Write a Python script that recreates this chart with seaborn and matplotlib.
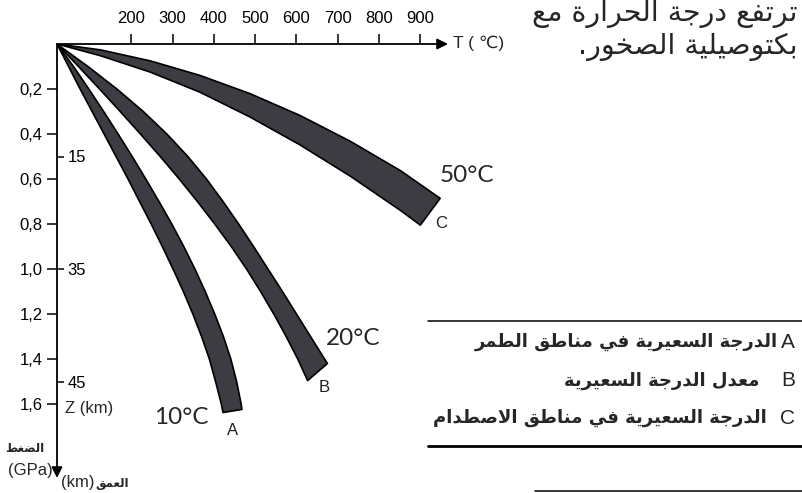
import matplotlib
matplotlib.use("Agg")
import matplotlib.pyplot as plt
from matplotlib.lines import Line2D
import seaborn as sns

# axes: temperature (top) and pressure / depth (left)
t_surface = 20
t_ticks = [200, 300, 400, 500, 600, 700, 800, 900]
p_ticks = [0.2, 0.4, 0.6, 0.8, 1.0, 1.2, 1.4, 1.6]
p_labels = ["0,2", "0,4", "0,6", "0,8", "1,0", "1,2", "1,4", "1,6"]
z_ticks = [0.5, 1.0, 1.5]
z_labels = ["15", "35", "45"]

# geotherm bands, warm edge and cool edge (T in °C, P in GPa)
a_hot_p = [0, 0.1, 0.2, 0.3, 0.4, 0.5, 0.6, 0.7, 0.8, 0.9, 1.0, 1.1, 1.2, 1.3, 1.4, 1.5, 1.6, 1.624]
a_hot_t = [20, 60, 97, 133, 168, 202, 235, 267, 298, 327, 354, 379, 402, 423, 441, 455, 466, 468]
a_cold_p = [0, 0.1, 0.2, 0.3, 0.4, 0.5, 0.6, 0.7, 0.8, 0.9, 1.0, 1.1, 1.2, 1.3, 1.4, 1.5, 1.6, 1.638]
a_cold_t = [20, 48, 76, 105, 134, 163, 192, 220, 248, 275, 301, 326, 349, 370, 389, 404, 418, 422]

b_hot_p = [0, 0.1, 0.2, 0.3, 0.4, 0.5, 0.6, 0.7, 0.8, 0.9, 1.0, 1.1, 1.2, 1.3, 1.4, 1.42]
b_hot_t = [20, 95, 165, 229, 286, 337, 382, 422, 460, 496, 531, 566, 600, 634, 668, 675]
b_cold_p = [0, 0.1, 0.2, 0.3, 0.4, 0.5, 0.6, 0.7, 0.8, 0.9, 1.0, 1.1, 1.2, 1.3, 1.4, 1.496]
b_cold_t = [20, 72, 123, 173, 222, 270, 316, 360, 402, 442, 479, 513, 545, 575, 603, 627]

c_hot_t = [20, 125, 246, 367, 488, 609, 730, 852, 948]
c_hot_p = [0, 0.026, 0.075, 0.140, 0.221, 0.318, 0.432, 0.563, 0.686]
c_cold_t = [20, 125, 246, 367, 488, 609, 730, 852, 900]
c_cold_p = [0, 0.052, 0.125, 0.215, 0.325, 0.449, 0.587, 0.740, 0.805]

band_names = ["A", "B", "C"]
band_gradients = ["10°C", "20°C", "50°C"]
legend_labels = ["الدرجة السعيرية في مناطق الطمر",
                 "معدل الدرجة السعيرية",
                 "الدرجة السعيرية في مناطق الاصطدام"]
top_lines = ["ترتفع درجة الحرارة مع", "بكتوصيلية الصخور."]

# --- minimal arabic shaping (matplotlib has no bidi / joining) ---
ISO = {'ا': 0xFE8D, 'ب': 0xFE8F, 'ة': 0xFE93, 'ت': 0xFE95, 'ج': 0xFE9D, 'ح': 0xFEA1,
       'خ': 0xFEA5, 'د': 0xFEA9, 'ر': 0xFEAD, 'س': 0xFEB1, 'ص': 0xFEB9, 'ض': 0xFEBD,
       'ط': 0xFEC1, 'ع': 0xFEC9, 'غ': 0xFECD, 'ف': 0xFED1, 'ق': 0xFED5, 'ك': 0xFED9,
       'ل': 0xFEDD, 'م': 0xFEE1, 'ن': 0xFEE5, 'و': 0xFEED, 'ي': 0xFEF1}
RIGHT_ONLY = set('اةدرو')


def rtl(text):
    out, prev, i = [], None, 0
    while i < len(text):
        c = text[i]
        nxt = text[i + 1] if i + 1 < len(text) else None
        joins_prev = prev in ISO and prev not in RIGHT_ONLY
        if c == 'ل' and nxt == 'ا':
            out.append(chr(0xFEFC if joins_prev else 0xFEFB))
            prev, i = 'ا', i + 2
            continue
        if c in ISO:
            joins_next = c not in RIGHT_ONLY and nxt in ISO
            code = ISO[c]
            if joins_prev and joins_next:
                code += 3
            elif joins_prev:
                code += 1
            elif joins_next:
                code += 2
            out.append(chr(code))
        else:
            out.append(c)
        prev = c
        i += 1
    return ''.join(reversed(out))


sns.set_theme(style="white")
plt.rcParams['font.family'] = ['Liberation Sans', 'DejaVu Sans']

W, H = 803, 493
fig = plt.figure(figsize=(W / 100, H / 100), dpi=100)


def fx(x):
    return x / W


def fy(y):
    return 1 - y / H


# origin at pixel (57, 44), arrow tips at x=448 and y=478
px_per_deg = 0.4129
px_per_gpa = 225
x0, y0, x1, y1 = 57, 44, 448, 478
ax = fig.add_axes([fx(x0), fy(y1), (x1 - x0) / W, (y1 - y0) / H])
ax.set_xlim(t_surface, t_surface + (x1 - x0) / px_per_deg)
ax.set_ylim((y1 - y0) / px_per_gpa, 0)
ax.patch.set_alpha(0)
sns.despine(ax=ax, left=True, bottom=True)
ax.spines['top'].set_visible(False)
ax.spines['right'].set_visible(False)

arrow = dict(arrowstyle='-|>', lw=1.3, color='black', mutation_scale=16,
             shrinkA=0, shrinkB=0)
ax.annotate('', xy=(1, 1), xytext=(0, 1), xycoords='axes fraction', arrowprops=arrow)
ax.annotate('', xy=(0, 0), xytext=(0, 1), xycoords='axes fraction', arrowprops=arrow)

ax.set_xticks(t_ticks, [str(t) for t in t_ticks])
ax.set_yticks(p_ticks, p_labels)
ax.tick_params(axis='x', top=True, bottom=False, labeltop=True, labelbottom=False,
               direction='out', length=7, width=1.1, pad=6, labelsize=12, colors='black')
ax.tick_params(axis='y', left=True, right=False, direction='out', length=7,
               width=1.1, pad=3.5, labelsize=12, colors='black')
ax.grid(False)

# depth scale on the inner side of the pressure axis
az = ax.twinx()
az.set_ylim(ax.get_ylim())
for s in az.spines.values():
    s.set_visible(False)
az.spines['right'].set_position(('axes', 0))
az.set_yticks(z_ticks, z_labels)
az.tick_params(axis='y', right=True, direction='out', length=5, width=1.1, pad=2.5,
               labelsize=12, colors='black')
az.grid(False)
ax.annotate('Z (km)', xy=(t_surface, 1.62), xytext=(8, 0), textcoords='offset pixels',
            ha='left', va='center', fontsize=12)

fig.text(fx(453), fy(43), 'T ( ℃)', ha='left', va='center', fontsize=12.5)

# geotherm bands
bands = [(a_hot_t, a_hot_p, a_cold_t, a_cold_p),
         (b_hot_t, b_hot_p, b_cold_t, b_cold_p),
         (c_hot_t, c_hot_p, c_cold_t, c_cold_p)]
letter_off = [(10, -18), (17, -7), (21, 2)]
grad_off = [(-42, -5), (26, 25), (27, 23)]
grad_anchor = ['cold', 'hot', 'hot']
for (ht, hp, ct, cp), name, grad, lo, go, anc in zip(
        bands, band_names, band_gradients, letter_off, grad_off, grad_anchor):
    ax.fill(ht + ct[::-1], hp + cp[::-1], facecolor='#3c3c42', edgecolor='black',
            lw=1.2, joinstyle='round', zorder=3)
    ax.annotate(name, xy=(ct[-1], cp[-1]), xytext=lo, textcoords='offset pixels',
                ha='center', va='center', fontsize=12, color='#222222',
                annotation_clip=False)
    ref = (ct[-1], cp[-1]) if anc == 'cold' else (ht[-1], hp[-1])
    ax.annotate(grad, xy=ref, xytext=go, textcoords='offset pixels', ha='center',
                va='center', fontsize=17.5, family=['Lato', 'DejaVu Sans'],
                annotation_clip=False)

# axis names in the lower left corner
fig.text(fx(25), fy(448), rtl('الضغط'), ha='center', va='center', fontsize=8.5,
         fontweight='bold', family=['DejaVu Sans'])
fig.text(fx(30), fy(470), '(GPa)', ha='center', va='center', fontsize=12)
fig.text(fx(61), fy(483), '(km)', ha='left', va='center', fontsize=12)
fig.text(fx(95), fy(483), rtl('العمق'), ha='left', va='center', fontsize=8.5,
         fontweight='bold', family=['DejaVu Sans'])

# legend box
legend_y = [342, 381, 418]
legend_right = [778, 760, 767]
for letter, lab, yy, xr in zip(band_names, legend_labels, legend_y, legend_right):
    fig.text(fx(788), fy(yy), letter, ha='center', va='center', fontsize=15)
    fig.text(fx(xr), fy(yy), rtl(lab), ha='right', va='center', fontsize=13,
             fontweight='bold', family=['DejaVu Sans'])
fig.add_artist(Line2D([fx(428), fx(803)], [fy(321), fy(321)], color='black', lw=1.1))
fig.add_artist(Line2D([fx(428), fx(803)], [fy(446), fy(446)], color='black', lw=2))
fig.add_artist(Line2D([fx(535), fx(803)], [fy(491), fy(491)], color='black', lw=1.1))

# page text showing behind the picture
for line, yy in zip(top_lines, [21, 54]):
    fig.text(fx(798), fy(yy), rtl(line), ha='right', va='baseline', fontsize=20.5,
             family=['DejaVu Sans'])

fig.savefig('out.png', dpi=100)
